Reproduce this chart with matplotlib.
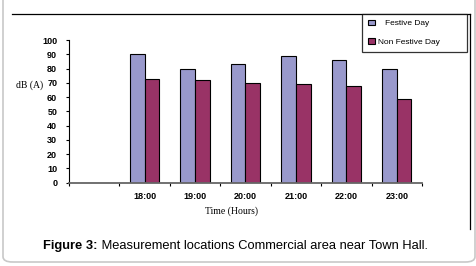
import matplotlib
matplotlib.use('Agg')
import matplotlib.pyplot as plt
import numpy as np
from matplotlib.lines import Line2D
from matplotlib.patches import FancyBboxPatch

# data
hours = ['', '18:00', '19:00', '20:00', '21:00', '22:00', '23:00']
festive = [0, 90, 80, 83, 88.6, 85.8, 80]
non_festive = [0, 72.5, 71.8, 69.7, 69, 67.6, 58.4]
y_ticks = list(range(0, 101, 10))

W, H = 477, 266
fig = plt.figure(figsize=(W / 100, H / 100), dpi=100)

def fx(px):
    return px / W

def fy(py):
    return 1 - py / H

ax = fig.add_axes([fx(69), fy(182.7), fx(422) - fx(69), fy(40) - fy(182.7)])

x = np.arange(len(hours))
w = 0.29
ax.bar(x - w / 2, festive, w, color='#9999CC', edgecolor='black', linewidth=0.8,
       label='   Festive Day')
ax.bar(x + w / 2, non_festive, w, color='#993366', edgecolor='black', linewidth=0.8,
       label='Non Festive Day' + ' ' * 9)

ax.set_xlim(-0.5, len(hours) - 0.5)
ax.set_ylim(0, 100)
ax.set_yticks(y_ticks)
ax.set_yticklabels([str(v) for v in y_ticks], fontsize=6.5, fontweight='bold',
                   family='Liberation Sans')
ax.set_xticks(x)
ax.set_xticklabels(hours, fontsize=6.5, fontweight='bold', family='Liberation Sans')
ax.set_xticks(np.arange(-0.5, len(hours), 1), minor=True)
ax.tick_params(axis='x', which='major', length=0, pad=7)
ax.tick_params(axis='x', which='minor', length=2.5, width=0.8, direction='out')
ax.tick_params(axis='y', length=2.5, width=0.8, direction='out', pad=6)

for s in ['top', 'right']:
    ax.spines[s].set_visible(False)
ax.spines['left'].set_linewidth(0.8)
ax.spines['bottom'].set_color('#666666')
ax.spines['bottom'].set_linewidth(1.3)

fig.text(fx(30), fy(85), 'dB (A)', fontsize=7, family='Liberation Serif',
         ha='center', va='center')
fig.text(fx(232), fy(211), 'Time (Hours)', fontsize=7, family='Liberation Serif',
         ha='center', va='center')

leg = fig.legend(loc='upper right', bbox_to_anchor=(fx(467), fy(14)),
                 prop={'family': 'Liberation Sans', 'size': 6},
                 frameon=True, fancybox=False, handlelength=0.9, handleheight=0.6,
                 handletextpad=0.3, labelspacing=1.3, borderpad=0.7,
                 borderaxespad=0)
leg.get_frame().set_edgecolor('black')
leg.get_frame().set_linewidth(0.9)

# frame lines around the chart
fig.add_artist(Line2D([fx(12), fx(470)], [fy(14), fy(14)], color='black', lw=0.9))
fig.add_artist(Line2D([fx(470), fx(470)], [fy(14), fy(229)], color='black', lw=0.9))

# outer rounded border
fig.add_artist(FancyBboxPatch((fx(3), fy(262)), fx(472), fy(-20) - fy(262),
                              boxstyle='round,pad=0,rounding_size=0.02',
                              transform=fig.transFigure, fill=False,
                              edgecolor='#c8c8c8', lw=1.2))

# caption: bold "Figure 3:" followed by plain text
t1 = fig.text(fx(43), fy(246), 'Figure 3:', fontsize=9.3, fontweight='bold',
              family='Liberation Sans', ha='left', va='center')
ax.annotate(' Measurement locations Commercial area near Town Hall.',
            xy=(1, 0), xycoords=t1, va='bottom', ha='left',
            fontsize=9.3, family='Liberation Sans', annotation_clip=False)

fig.savefig('out.png', dpi=100)
